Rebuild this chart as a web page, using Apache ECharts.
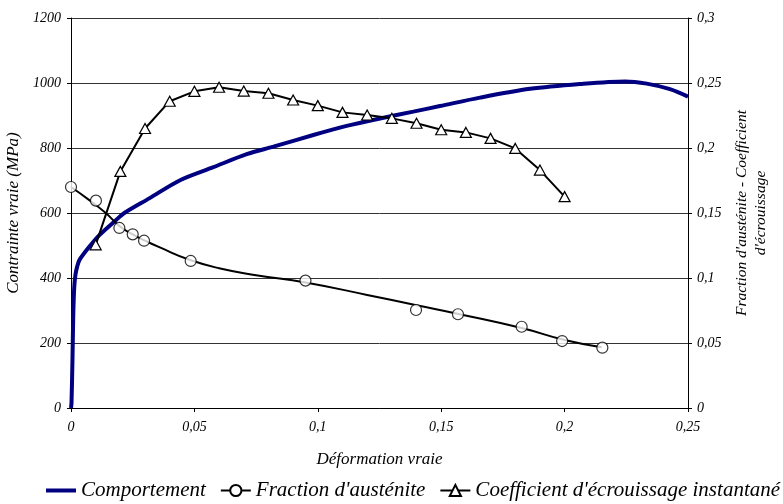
<!DOCTYPE html>
<html>
<head>
<meta charset="utf-8">
<script src="https://cdn.jsdelivr.net/npm/echarts@6/dist/echarts.min.js"></script>
<style>
  html, body { margin: 0; padding: 0; background: #fff; }
  #chart { width: 783px; height: 504px; }
</style>
</head>
<body>
<div id="chart"></div>
<script>
// Comportement (contrainte vraie, MPa) - axe gauche
const comportementStrain = [0, 0.0002, 0.0006, 0.0009, 0.0013, 0.0018, 0.0025, 0.0034, 0.0074, 0.0115, 0.0182, 0.0216, 0.0317, 0.0442, 0.0577, 0.0712, 0.082, 0.0982, 0.1117, 0.1252, 0.1387, 0.1495, 0.1657, 0.186, 0.2062, 0.2245, 0.2333, 0.2427, 0.25]
const comportementStress = [0, 15, 150, 280, 370, 410, 435, 455, 496, 532, 578, 600, 645, 701, 741, 781, 804, 840, 868, 891, 912, 929, 955, 982, 997, 1005, 998, 981, 958]

// Fraction d'austénite - points mesurés (axe droit)
const fractionStrain = [0, 0.0101, 0.0196, 0.025, 0.0296, 0.0485, 0.095, 0.1398, 0.1568, 0.1826, 0.199, 0.2153]
const fractionValues = [0.170, 0.1595, 0.1385, 0.1336, 0.1287, 0.1131, 0.098, 0.0754, 0.0721, 0.0625, 0.0515, 0.0464]

// Fraction d'austénite - courbe de tendance (axe droit)
const fractionCurveStrain = [0, 0.007, 0.0142, 0.0196, 0.025, 0.03, 0.036, 0.048, 0.06, 0.075, 0.095, 0.12, 0.14, 0.157, 0.183, 0.2, 0.215]
const fractionCurveValues = [0.170, 0.1605, 0.1498, 0.1400, 0.1335, 0.1287, 0.1235, 0.1140, 0.1075, 0.1022, 0.0965, 0.0870, 0.0790, 0.0723, 0.0613, 0.0523, 0.0467]

// Coefficient d'écrouissage instantané (axe droit)
const coefStrain = [0.01, 0.02, 0.03, 0.04, 0.05, 0.06, 0.07, 0.08, 0.09, 0.10, 0.11, 0.12, 0.13, 0.14, 0.15, 0.16, 0.17, 0.18, 0.19, 0.20]
const coefValues = [0.1255, 0.182, 0.215, 0.236, 0.2436, 0.2467, 0.2438, 0.2421, 0.2369, 0.2326, 0.2274, 0.2254, 0.2228, 0.219, 0.2140, 0.212, 0.2074, 0.1997, 0.183, 0.1626]

const legendNames = ['Comportement', "Fraction d'austénite", "Coefficient d'écrouissage instantané"]

const pairs = (xs, ys) => xs.map((x, i) => [x, ys[i]])
const comma = v => String(v).replace('.', ',')

const font = 'Liberation Serif'
const labelStyle = { fontFamily: font, fontStyle: 'italic', fontSize: 14, color: '#000' }
const nameStyle = { fontFamily: font, fontStyle: 'italic', fontSize: 17, color: '#000' }
const hollow = { color: '#fff', borderColor: '#000', borderWidth: 1.2 }

const chart = echarts.init(document.getElementById('chart'))

const option = {
  animation: false,
  grid: { left: 71, right: 95, top: 18, bottom: 96, outerBoundsMode: 'none' },
  legend: {
    data: [
      { name: legendNames[0], icon: 'path://M0,0H30V4H0Z' },
      legendNames[1],
      legendNames[2]
    ],
    bottom: 3,
    left: 46,
    padding: 0,
    itemWidth: 30,
    itemHeight: 14,
    itemGap: 14,
    textStyle: { fontFamily: font, fontStyle: 'italic', fontSize: 21, color: '#000' }
  },
  xAxis: {
    type: 'value',
    min: 0,
    max: 0.25,
    interval: 0.05,
    name: 'Déformation vraie',
    nameLocation: 'middle',
    nameGap: 43,
    nameTextStyle: nameStyle,
    axisLine: { lineStyle: { color: '#000', width: 1 } },
    axisTick: { show: true, length: 4, lineStyle: { color: '#000' } },
    axisLabel: { ...labelStyle, margin: 12, formatter: comma },
    splitLine: { show: false }
  },
  yAxis: [
    {
      type: 'value',
      position: 'left',
      min: 0,
      max: 1200,
      interval: 200,
      name: 'Contrainte vraie (MPa)',
      nameLocation: 'middle',
      nameGap: 44,
      nameTextStyle: nameStyle,
      axisLine: { show: true, lineStyle: { color: '#000', width: 1 } },
      axisTick: { show: true, length: 4, lineStyle: { color: '#000' } },
      axisLabel: { ...labelStyle, margin: 10, formatter: v => String(v) },
      splitLine: { show: true, lineStyle: { color: '#333', width: 1 } }
    },
    {
      type: 'value',
      position: 'right',
      min: 0,
      max: 0.3,
      interval: 0.05,
      name: "Fraction d'austénite - Coefficient\nd'écrouissage",
      nameLocation: 'middle',
      nameGap: 44,
      nameRotate: 90,
      nameTextStyle: { ...nameStyle, fontSize: 15.5, lineHeight: 19 },
      axisLine: { show: true, lineStyle: { color: '#000', width: 1 } },
      axisTick: { show: true, length: 4, lineStyle: { color: '#000' } },
      axisLabel: { ...labelStyle, margin: 9, formatter: comma },
      splitLine: { show: false }
    }
  ],
  series: [
    {
      name: legendNames[0],
      type: 'line',
      yAxisIndex: 0,
      data: pairs(comportementStrain, comportementStress),
      symbol: 'none',
      smooth: 0.3,
      lineStyle: { color: '#000080', width: 4 },
      itemStyle: { color: '#000080' },
      z: 2
    },
    {
      name: legendNames[1],
      type: 'line',
      yAxisIndex: 1,
      data: pairs(fractionCurveStrain, fractionCurveValues),
      symbol: 'circle',
      symbolSize: 11,
      showSymbol: false,
      smooth: true,
      lineStyle: { color: '#000', width: 2 },
      itemStyle: hollow,
      z: 3
    },
    {
      name: legendNames[1],
      type: 'scatter',
      yAxisIndex: 1,
      data: pairs(fractionStrain, fractionValues),
      symbol: 'circle',
      symbolSize: 11,
      itemStyle: hollow,
      z: 4
    },
    {
      name: legendNames[2],
      type: 'line',
      yAxisIndex: 1,
      data: pairs(coefStrain, coefValues),
      symbol: 'triangle',
      symbolSize: [11, 10],
      showSymbol: true,
      lineStyle: { color: '#000', width: 2 },
      itemStyle: hollow,
      z: 5
    }
  ]
}

chart.setOption(option)
</script>
</body>
</html>
